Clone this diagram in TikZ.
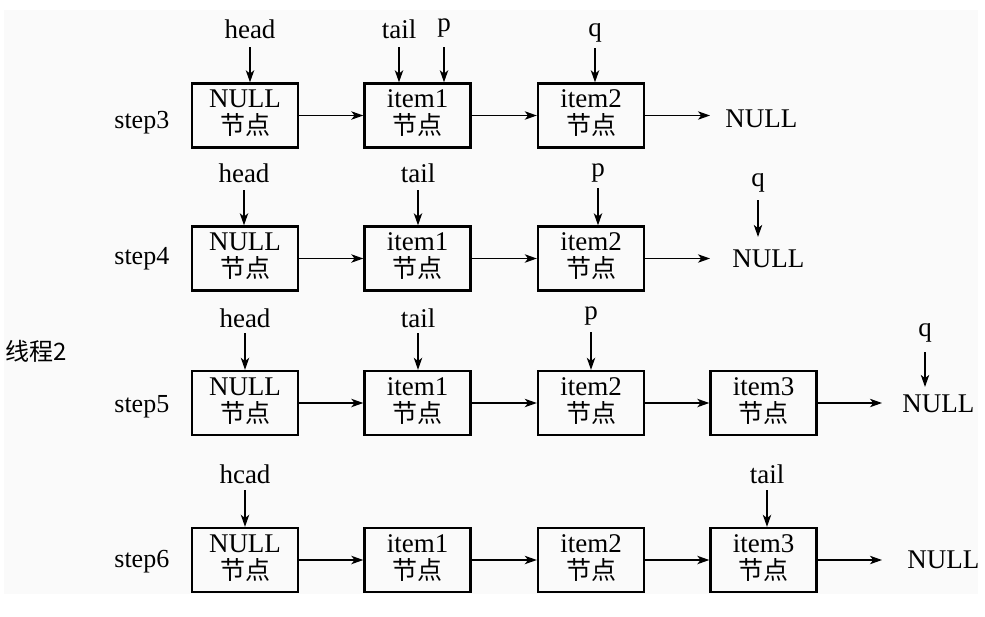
\documentclass[tikz,border=0pt]{standalone}
\usepackage{fontspec}
\setmainfont{Liberation Serif}
\newfontfamily\cjkfont{Noto Sans CJK SC}
\usetikzlibrary{arrows.meta}
\definecolor{bgc}{RGB}{250,250,250}
\newcommand\ListNode[4]{%
  \node[nodebox] (#1) at (#2,#3) {};
  \node[intext] (#1t) at (#2,#3-8) {#4};
  \node[incjk] (#1c) at (#2,#3+19) {节点};
}
\begin{document}
\begin{tikzpicture}[x=0.5pt,y=-0.5pt,
  nodebox/.style={draw, line width=1.2pt, minimum width=53pt, minimum height=32pt, inner sep=0pt},
  intext/.style={font=\fontsize{13.5}{16}\selectfont, inner sep=0pt, anchor=base},
  incjk/.style={font=\cjkfont\fontsize{12.5}{15}\selectfont, inner sep=0pt, anchor=base},
  ptr/.style={font=\fontsize{13.5}{16}\selectfont, inner sep=0pt, anchor=base, text depth=0pt},
  steplbl/.style={font=\fontsize{13}{16}\selectfont, inner sep=0pt, anchor=base west},
  endnull/.style={font=\fontsize{13.5}{16}\selectfont, inner sep=0pt, anchor=base west},
  arr/.style={-{Stealth[length=6pt,width=4.2pt,inset=1.6pt]}, line width=0.6pt}]
\useasboundingbox (0,0) rectangle (985,616);
\fill[bgc] (4,10) rectangle (978,594);

\node[font=\cjkfont\fontsize{12}{14}\selectfont, inner sep=0pt, anchor=west] (thr) at (5,351) {线程2};

% ---------- step3 ----------
\ListNode{a31}{245}{115.5}{NULL}
\ListNode{a32}{417.5}{115.5}{item1}
\ListNode{a33}{591}{115.5}{item2}
\node[endnull] (n3) at (725,127) {NULL};
\node[steplbl] (s3) at (114,128) {step3};
\draw[arr] (a31.east) -- (a32.west);
\draw[arr] (a32.east) -- (a33.west);
\draw[arr, shorten >=7.5pt] (a33.east) -- (a33.east -| n3.west);
\node[ptr] (h3) at (250,38) {head};
\node[ptr] (t3) at (399,38) {tail};
\node[ptr] (p3) at (444,31) {p};
\node[ptr] (q3) at (595,36) {q};
\draw[arr, shorten <=4.5pt] (h3.south) -- (h3.south |- a31.north);
\draw[arr, shorten <=4.5pt] (t3.south) -- (t3.south |- a32.north);
\draw[arr, shorten <=8pt] (p3.south) -- (p3.south |- a32.north);
\draw[arr, shorten <=6pt] (q3.south) -- (q3.south |- a33.north);

% ---------- step4 ----------
\ListNode{a41}{245}{258.5}{NULL}
\ListNode{a42}{417.5}{258.5}{item1}
\ListNode{a43}{591}{258.5}{item2}
\node[endnull] (n4) at (732,267) {NULL};
\node[steplbl] (s4) at (114,264) {step4};
\draw[arr] (a41.east) -- (a42.west);
\draw[arr] (a42.east) -- (a43.west);
\draw[arr, shorten >=11pt] (a43.east) -- (a43.east -| n4.west);
\node[ptr] (h4) at (244,182) {head};
\node[ptr] (t4) at (418,182) {tail};
\node[ptr] (p4) at (598,176) {p};
\node[ptr] (q4) at (758,186) {q};
\draw[arr, shorten <=4pt] (h4.south) -- (h4.south |- a41.north);
\draw[arr, shorten <=4pt] (t4.south) -- (t4.south |- a42.north);
\draw[arr, shorten <=6pt] (p4.south) -- (p4.south |- a43.north);
\draw[arr, shorten <=7pt, shorten >=6pt] (q4.south) -- (q4.south |- n4.north);

% ---------- step5 ----------
\ListNode{a51}{245}{403}{NULL}
\ListNode{a52}{417.5}{403}{item1}
\ListNode{a53}{591}{403}{item2}
\ListNode{a54}{763.5}{403}{item3}
\node[endnull] (n5) at (902,412) {NULL};
\node[steplbl] (s5) at (114,412) {step5};
\draw[arr] (a51.east) -- (a52.west);
\draw[arr] (a52.east) -- (a53.west);
\draw[arr] (a53.east) -- (a54.west);
\draw[arr, shorten >=10pt] (a54.east) -- (a54.east -| n5.west);
\node[ptr] (h5) at (245,327) {head};
\node[ptr] (t5) at (418,327) {tail};
\node[ptr] (p5) at (591,319) {p};
\node[ptr] (q5) at (925,336) {q};
\draw[arr, shorten <=3pt] (h5.south) -- (h5.south |- a51.north);
\draw[arr, shorten <=3pt] (t5.south) -- (t5.south |- a52.north);
\draw[arr, shorten <=6.5pt] (p5.south) -- (p5.south |- a53.north);
\draw[arr, shorten <=8pt, shorten >=3.5pt] (q5.south) -- (q5.south |- n5.north);

% ---------- step6 ----------
\ListNode{a61}{245}{560}{NULL}
\ListNode{a62}{417.5}{560}{item1}
\ListNode{a63}{591}{560}{item2}
\ListNode{a64}{763.5}{560}{item3}
\node[endnull] (n6) at (907,568) {NULL};
\node[steplbl] (s6) at (114,567) {step6};
\draw[arr] (a61.east) -- (a62.west);
\draw[arr] (a62.east) -- (a63.west);
\draw[arr] (a63.east) -- (a64.west);
\draw[arr, shorten >=12.5pt] (a64.east) -- (a64.east -| n6.west);
\node[ptr] (h6) at (245,483) {hcad};
\node[ptr] (t6) at (767,483) {tail};
\draw[arr, shorten <=3.5pt] (h6.south) -- (h6.south |- a61.north);
\draw[arr, shorten <=3.5pt] (t6.south) -- (t6.south |- a64.north);
\end{tikzpicture}
\end{document}
